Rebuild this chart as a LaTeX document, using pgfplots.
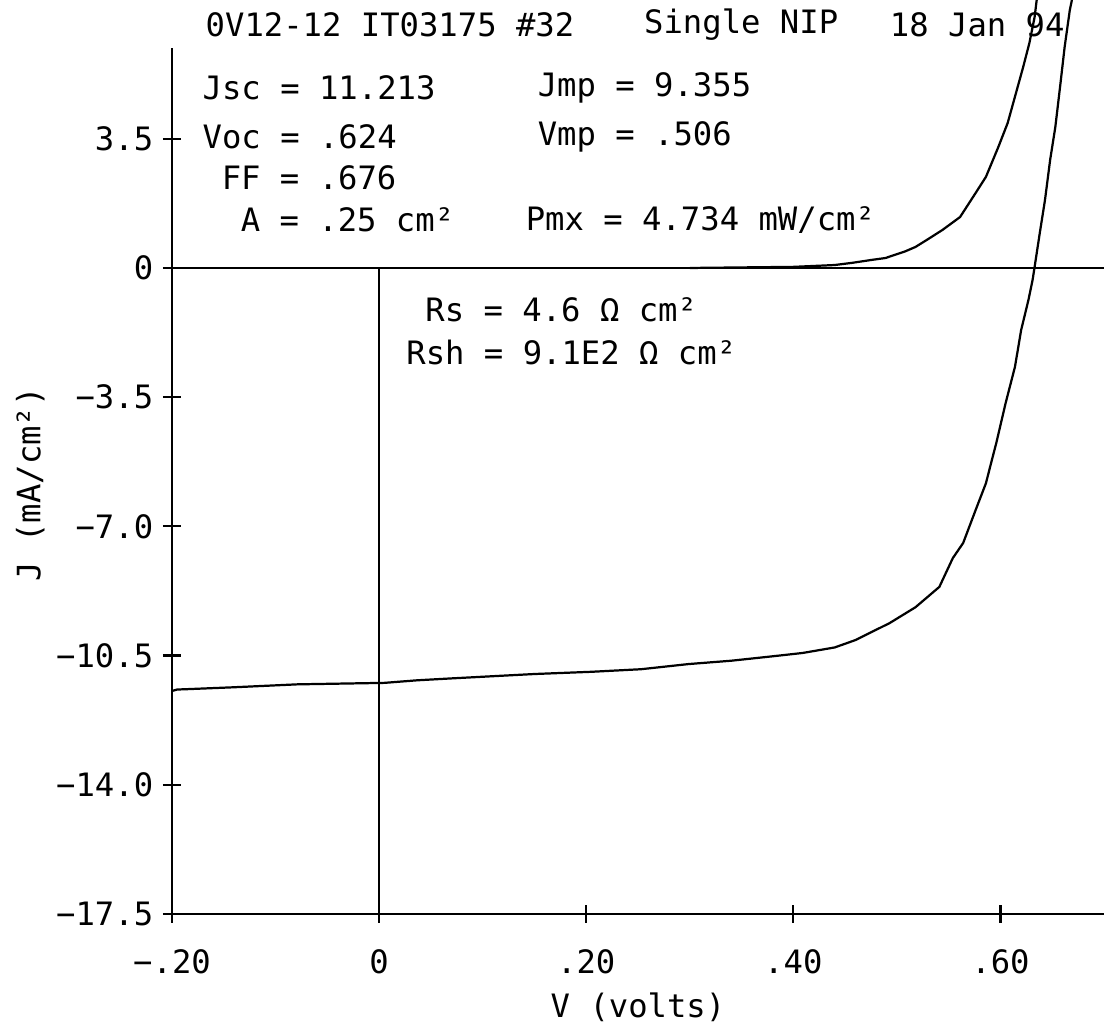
\documentclass[border=0pt]{standalone}
\usepackage{fontspec}
\setmainfont{DejaVu Sans Mono}
\usepackage{pgfplots}
\pgfplotsset{compat=1.18}
\newcommand\fsz{\fontsize{11.6}{13}\selectfont}
\begin{document}
\begin{tikzpicture}
\begin{axis}[
  name=ax,
  scale only axis, width=335.5pt, height=329pt,
  xmin=-0.2, xmax=0.7, ymin=-17.5, ymax=7.26,
  axis x line=bottom, axis y line=left,
  axis line style={-, line width=1pt},
  y axis line style={shorten >=17.3pt},
  xtick={-0.2,0,0.2,0.4,0.6}, xticklabels={−.20,0,.20,.40,.60},
  ytick={3.5,0,-3.5,-7,-10.5,-14,-17.5},
  yticklabels={3.5,0,−3.5,−7.0,−10.5,−14.0,−17.5},
  tick align=center, major tick length=6.5pt,
  tick style={line width=0.8pt, black},
  every tick label/.append style={font=\fsz},
  xticklabel style={yshift=-6pt},
  yticklabel style={xshift=0pt},
  every axis x label/.style={at={([yshift=-33.6pt]axis description cs:0.5,0)}, anchor=center, inner sep=0pt, font=\fsz},
  every axis y label/.style={at={([xshift=-51pt]axis description cs:0,0.47)}, rotate=90, anchor=center, font=\fsz},
  xlabel={V (volts)}, ylabel={J (mA/cm²)},
]
% zero reference lines
\draw[line width=0.8pt] (axis cs:-0.2,0) -- (axis cs:0.7,0);
\draw[line width=0.8pt] (axis cs:0,0) -- (axis cs:0,-17.5);
% dark curve
\addplot[black, line width=0.8pt] coordinates {
(0.30,0.00) (0.40,0.03) (0.44,0.08) (0.457,0.14) (0.476,0.22) (0.489,0.27)
(0.508,0.45) (0.518,0.57) (0.530,0.78) (0.544,1.03) (0.561,1.38) (0.576,2.03)
(0.586,2.47) (0.598,3.28) (0.607,3.93) (0.615,4.74) (0.622,5.45) (0.628,6.10)
(0.633,6.80) (0.635,7.26)
};
% light curve
\addplot[black, line width=0.8pt] coordinates {
(-0.200,-11.46) (-0.195,-11.42) (-0.185,-11.41) (-0.141,-11.36) (-0.079,-11.28)
(0.005,-11.24) (0.037,-11.17) (0.069,-11.12) (0.150,-11.00) (0.205,-10.94)
(0.253,-10.87) (0.299,-10.73) (0.340,-10.64) (0.380,-10.52) (0.409,-10.43)
(0.440,-10.28) (0.460,-10.08) (0.493,-9.62) (0.518,-9.19) (0.541,-8.64)
(0.554,-7.86) (0.564,-7.45) (0.576,-6.56) (0.586,-5.83) (0.591,-5.28)
(0.596,-4.74) (0.605,-3.66) (0.614,-2.68) (0.620,-1.68) (0.627,-0.87)
(0.631,-0.33) (0.633,0.03) (0.638,0.95) (0.643,1.84) (0.648,2.93)
(0.653,3.82) (0.658,5.01) (0.662,5.99) (0.667,6.99) (0.669,7.26)
};
% texts
\begin{scope}[every node/.style={font=\fsz, inner sep=0pt}]
\node[anchor=west] at (axis cs:-0.168,6.585) {0V12-12 IT03175 \#32};
\node[anchor=west] at (axis cs:0.2554,6.585) {Single NIP};
\node[anchor=east] at (axis cs:0.6624,6.585) {18 Jan 94};
\node[anchor=west] at (axis cs:-0.1709,4.878) {Jsc = 11.213};
\node[anchor=west] at (axis cs:-0.1709,3.55) {Voc = .624};
\node[anchor=west] at (axis cs:-0.1525,2.439) {FF = .676};
\node[anchor=west] at (axis cs:-0.1341,1.301) {A = .25 cm²};
\node[anchor=west] at (axis cs:0.1527,4.878) {Jmp = 9.355};
\node[anchor=west] at (axis cs:0.1527,3.55) {Vmp = .506};
\node[anchor=west] at (axis cs:0.1411,1.301) {Pmx = 4.734 mW/cm²};
\node[anchor=west] at (axis cs:0.0442,-1.138) {Rs = 4.6 Ω cm²};
\node[anchor=west] at (axis cs:0.0258,-2.276) {Rsh = 9.1E2 Ω cm²};
\end{scope}
\end{axis}
\pgfresetboundingbox
\path ([shift={(-61.92pt,-39.96pt)}]ax.south west) rectangle (ax.north east);
\end{tikzpicture}
\end{document}
